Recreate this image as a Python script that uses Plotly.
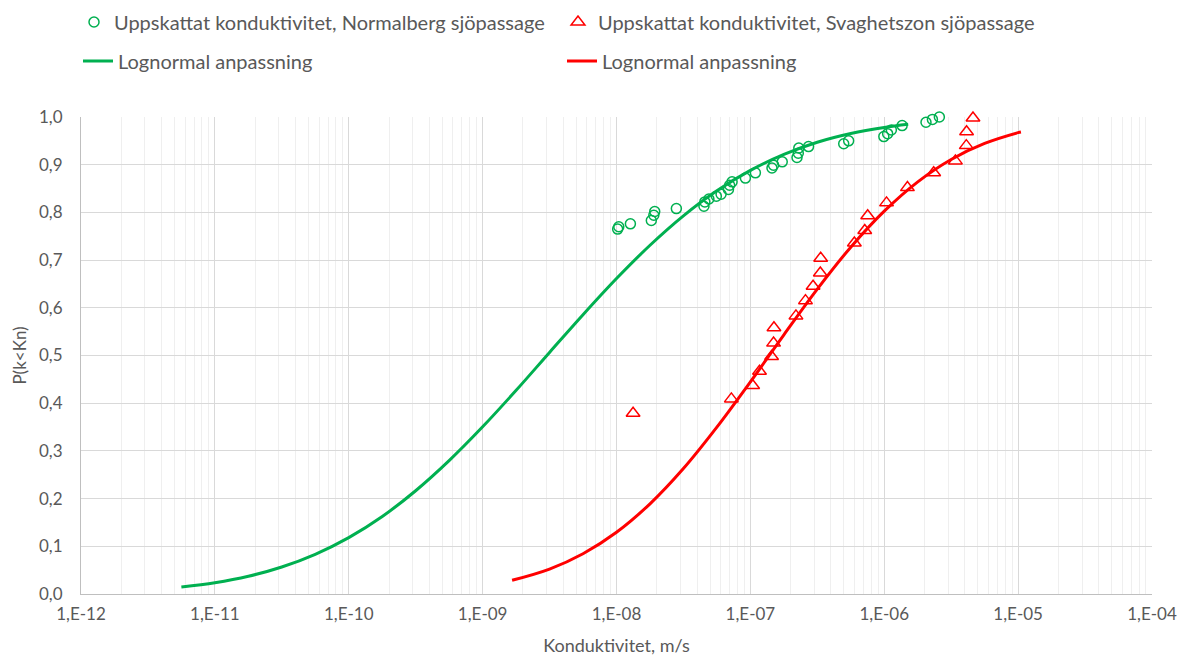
import plotly.graph_objects as go

# Estimated hydraulic conductivity, normal rock (m/s) and cumulative probability
normal_k = [1.02e-8, 1.04e-8, 1.27e-8, 1.82e-8, 1.90e-8, 1.93e-8, 2.80e-8, 4.50e-8,
            4.57e-8, 4.90e-8, 5.57e-8, 6.04e-8, 6.86e-8, 7.00e-8, 7.30e-8, 9.18e-8,
            1.09e-7, 1.45e-7, 1.49e-7, 1.73e-7, 2.23e-7, 2.28e-7, 2.30e-7, 2.72e-7,
            4.98e-7, 5.42e-7, 9.93e-7, 1.06e-6, 1.13e-6, 1.36e-6, 2.05e-6, 2.29e-6,
            2.58e-6]
normal_p = [0.765, 0.770, 0.776, 0.783, 0.794, 0.802, 0.808, 0.813,
            0.822, 0.828, 0.834, 0.838, 0.848, 0.857, 0.864, 0.872,
            0.883, 0.893, 0.899, 0.906, 0.915, 0.924, 0.935, 0.938,
            0.944, 0.950, 0.959, 0.965, 0.973, 0.982, 0.989, 0.995,
            1.000]

# Estimated hydraulic conductivity, weakness zone (m/s) and cumulative probability
weak_k = [1.33e-8, 7.21e-8, 1.04e-7, 1.17e-7, 1.44e-7, 1.49e-7, 1.50e-7, 2.19e-7,
          2.58e-7, 2.94e-7, 3.33e-7, 3.35e-7, 5.98e-7, 7.15e-7, 7.52e-7, 1.04e-6,
          1.49e-6, 2.34e-6, 3.40e-6, 4.10e-6, 4.12e-6, 4.60e-6]
weak_p = [0.379, 0.409, 0.437, 0.467, 0.498, 0.526, 0.558, 0.583,
          0.615, 0.645, 0.673, 0.704, 0.736, 0.762, 0.793, 0.820,
          0.852, 0.883, 0.908, 0.940, 0.969, 0.998]

# Lognormal fitted curves
normal_fit_k = [5.62e-12, 1.0e-11, 1.78e-11, 3.16e-11, 5.62e-11, 1.0e-10, 1.78e-10,
                3.16e-10, 5.62e-10, 1.0e-9, 1.78e-9, 3.16e-9, 5.62e-9, 1.0e-8,
                1.78e-8, 3.16e-8, 5.62e-8, 1.0e-7, 1.78e-7, 3.16e-7, 5.62e-7,
                1.0e-6, 1.51e-6]
normal_fit_p = [0.0145, 0.0236, 0.0372, 0.0566, 0.0832, 0.1182, 0.1625,
                0.2165, 0.2796, 0.3505, 0.4270, 0.5064, 0.5855, 0.6613,
                0.7311, 0.7927, 0.8452, 0.8880, 0.9216, 0.9470, 0.9653,
                0.9781, 0.9846]

weak_fit_k = [1.66e-9, 3.16e-9, 5.62e-9, 1.0e-8, 1.78e-8, 3.16e-8, 5.62e-8,
              1.0e-7, 1.78e-7, 3.16e-7, 5.62e-7, 1.0e-6, 1.78e-6, 3.16e-6,
              5.62e-6, 1.0e-5, 1.05e-5]
weak_fit_p = [0.0287, 0.0522, 0.0844, 0.1294, 0.1891, 0.2630, 0.3498,
              0.4447, 0.5434, 0.6391, 0.7271, 0.8026, 0.8641, 0.9110,
              0.9445, 0.9672, 0.9686]

x_tick_vals = [1e-12, 1e-11, 1e-10, 1e-9, 1e-8, 1e-7, 1e-6, 1e-5, 1e-4]
x_tick_text = ["1,E-12", "1,E-11", "1,E-10", "1,E-09", "1,E-08",
               "1,E-07", "1,E-06", "1,E-05", "1,E-04"]

GREEN = "#00B050"
RED = "#FF0000"
TEXT = "#595959"
FONT = "Lato, 'Open Sans', sans-serif"

fig = go.Figure()

fig.add_trace(go.Scatter(
    x=normal_k, y=normal_p, mode="markers",
    name="Uppskattat konduktivitet, Normalberg sjöpassage",
    marker=dict(symbol="circle-open", size=10, color=GREEN, line=dict(width=1.5)),
    cliponaxis=False, legend="legend",
))
fig.add_trace(go.Scatter(
    x=weak_k, y=weak_p, mode="markers",
    name="Uppskattat konduktivitet, Svaghetszon sjöpassage",
    marker=dict(symbol="triangle-up-open", size=12, color=RED, line=dict(width=1.5)),
    cliponaxis=False, legend="legend",
))
fig.add_trace(go.Scatter(
    x=normal_fit_k, y=normal_fit_p, mode="lines",
    name="Lognormal anpassning",
    line=dict(color=GREEN, width=3, shape="spline"),
    legend="legend2",
))
fig.add_trace(go.Scatter(
    x=weak_fit_k, y=weak_fit_p, mode="lines",
    name="Lognormal anpassning",
    line=dict(color=RED, width=3, shape="spline"),
    legend="legend2",
))

legend_common = dict(
    orientation="h", entrywidth=439, entrywidthmode="pixels",
    font=dict(family=FONT, size=20, color=TEXT),
    bgcolor="rgba(0,0,0,0)", xref="container", yref="container",
    xanchor="left", yanchor="middle",
    itemclick=False, itemdoubleclick=False,
)

fig.update_layout(
    width=1186, height=659,
    margin=dict(l=80.5, r=34.3, t=117.3, b=64.7),
    plot_bgcolor="white", paper_bgcolor="white",
    separators=", ",
    font=dict(family=FONT, size=17, color=TEXT),
    showlegend=True,
    legend=dict(x=74 / 1186, y=1 - 22 / 659, **legend_common),
    legend2=dict(x=78 / 1186, y=1 - 61 / 659, **legend_common),
    xaxis=dict(
        type="log", range=[-12, -4], automargin=False,
        tickvals=x_tick_vals, ticktext=x_tick_text,
        showgrid=True, gridcolor="#D9D9D9", gridwidth=1,
        minor=dict(showgrid=True, gridcolor="#EFEFEF", gridwidth=1, dtick="D1"),
        showline=True, linecolor="#BFBFBF", linewidth=1,
        zeroline=False, ticks="", ticklabelstandoff=5,
        tickfont=dict(size=17, color=TEXT),
        title=dict(text="Konduktivitet, m/s", font=dict(size=18, color=TEXT), standoff=15),
    ),
    yaxis=dict(
        range=[0, 1], dtick=0.1, tickformat=".1f", automargin=False,
        showgrid=True, gridcolor="#D9D9D9", gridwidth=1,
        showline=True, linecolor="#BFBFBF", linewidth=1,
        zeroline=False, ticks="", ticklabelstandoff=14,
        tickfont=dict(size=17, color=TEXT),
        title=dict(text="P(k<Kn)", font=dict(size=17, color=TEXT), standoff=8),
    ),
)

fig.write_html("out.html")
